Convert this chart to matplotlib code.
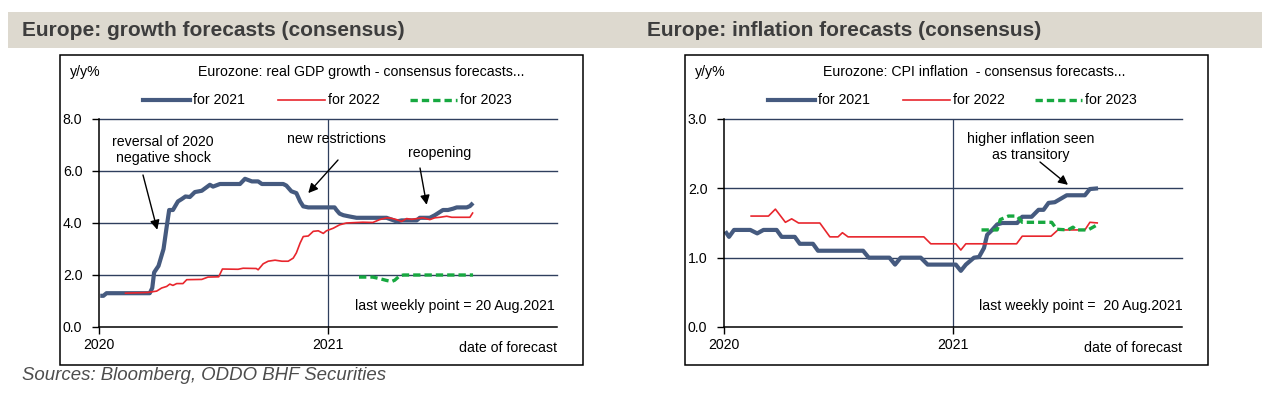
import matplotlib
matplotlib.use('Agg')
import matplotlib.pyplot as plt
import pandas as pd
from matplotlib.patches import Rectangle

W, H = 1269, 397

# consensus forecasts (date of forecast, y/y %)
gdp21_dates = ['2020-01-03', '2020-01-08', '2020-01-13', '2020-03-22', '2020-03-26', '2020-03-29',
               '2020-04-05', '2020-04-13', '2020-04-18', '2020-04-22', '2020-04-28', '2020-05-06',
               '2020-05-12', '2020-05-18', '2020-05-25', '2020-06-02', '2020-06-13', '2020-06-26',
               '2020-07-01', '2020-07-12', '2020-08-13', '2020-08-21', '2020-09-01', '2020-09-11',
               '2020-09-17', '2020-10-21', '2020-10-26', '2020-11-03', '2020-11-11', '2020-11-17',
               '2020-11-22', '2020-11-30', '2021-01-11', '2021-01-14', '2021-01-19', '2021-01-25',
               '2021-02-04', '2021-02-15', '2021-04-04', '2021-04-20', '2021-04-28', '2021-05-22',
               '2021-05-27', '2021-06-12', '2021-06-20', '2021-07-03', '2021-07-11', '2021-07-19',
               '2021-07-25', '2021-08-10', '2021-08-15', '2021-08-20']
gdp21 = [1.2, 1.2, 1.3, 1.3, 1.5, 2.1,
         2.35, 3.0, 3.85, 4.5, 4.5, 4.83,
         4.92, 5.02, 5.0, 5.19, 5.24, 5.47,
         5.4, 5.5, 5.5, 5.7, 5.6, 5.6,
         5.5, 5.5, 5.44, 5.22, 5.15, 4.83,
         4.64, 4.6, 4.6, 4.5, 4.36, 4.3,
         4.25, 4.2, 4.2, 4.06, 4.1, 4.1,
         4.2, 4.2, 4.3, 4.5, 4.5, 4.55,
         4.6, 4.6, 4.65, 4.77]

gdp22_dates = ['2020-02-11', '2020-03-19', '2020-04-02', '2020-04-10', '2020-04-18', '2020-04-23',
               '2020-04-28', '2020-05-04', '2020-05-14', '2020-05-20', '2020-06-13', '2020-06-23',
               '2020-07-10', '2020-07-16', '2020-08-10', '2020-08-18', '2020-09-08', '2020-09-11',
               '2020-09-19', '2020-09-27', '2020-10-08', '2020-10-19', '2020-10-29', '2020-11-06',
               '2020-11-11', '2020-11-17', '2020-11-22', '2020-11-30', '2020-12-08', '2020-12-16',
               '2020-12-24', '2020-12-29', '2021-01-09', '2021-01-19', '2021-01-30', '2021-02-25',
               '2021-03-13', '2021-03-24', '2021-04-04', '2021-04-12', '2021-04-20', '2021-04-28',
               '2021-05-06', '2021-05-14', '2021-05-22', '2021-06-01', '2021-06-12', '2021-06-20',
               '2021-06-28', '2021-07-09', '2021-07-17', '2021-08-15', '2021-08-20']
gdp22 = [1.3, 1.33, 1.38, 1.5, 1.56, 1.65,
         1.6, 1.67, 1.67, 1.82, 1.83, 1.92,
         1.93, 2.23, 2.22, 2.26, 2.25, 2.2,
         2.43, 2.53, 2.57, 2.53, 2.53, 2.65,
         2.85, 3.23, 3.48, 3.5, 3.68, 3.7,
         3.6, 3.7, 3.8, 3.93, 4.0, 4.03,
         4.02, 4.13, 4.2, 4.18, 4.13, 4.06,
         4.17, 4.14, 4.17, 4.2, 4.13, 4.2,
         4.22, 4.26, 4.22, 4.22, 4.41]

gdp23_dates = ['2021-02-19', '2021-03-13', '2021-03-24', '2021-04-04', '2021-04-12', '2021-04-17',
               '2021-04-25', '2021-05-01', '2021-08-20']
gdp23 = [1.92, 1.92, 1.86, 1.79, 1.75, 1.8, 1.97, 2.0, 2.0]

cpi21_dates = ['2020-01-03', '2020-01-09', '2020-01-17', '2020-02-12', '2020-02-23', '2020-03-04',
               '2020-03-25', '2020-04-02', '2020-04-23', '2020-05-01', '2020-05-22', '2020-05-30',
               '2020-08-10', '2020-08-19', '2020-09-21', '2020-09-30', '2020-10-09', '2020-11-10',
               '2020-11-21', '2020-12-15', '2021-01-05', '2021-01-13', '2021-01-21', '2021-02-03',
               '2021-02-11', '2021-02-19', '2021-02-24', '2021-03-04', '2021-03-12', '2021-03-20',
               '2021-04-13', '2021-04-21', '2021-05-06', '2021-05-17', '2021-05-25', '2021-06-02',
               '2021-06-12', '2021-07-01', '2021-07-30', '2021-08-07', '2021-08-20']
cpi21 = [1.38, 1.3, 1.4, 1.4, 1.35, 1.4,
         1.4, 1.3, 1.3, 1.2, 1.2, 1.1,
         1.1, 1.0, 1.0, 0.9, 1.0, 1.0,
         0.9, 0.9, 0.9, 0.81, 0.9, 1.0,
         1.01, 1.14, 1.33, 1.4, 1.48, 1.5,
         1.5, 1.59, 1.59, 1.69, 1.69, 1.79,
         1.8, 1.9, 1.9, 1.99, 2.0]

cpi22_dates = ['2020-02-12', '2020-03-12', '2020-03-23', '2020-04-08', '2020-04-18', '2020-04-29',
               '2020-06-02', '2020-06-18', '2020-07-01', '2020-07-08', '2020-07-17', '2020-11-15',
               '2020-11-26', '2021-01-05', '2021-01-13', '2021-01-21', '2021-04-12', '2021-04-21',
               '2021-06-06', '2021-06-17', '2021-07-30', '2021-08-07', '2021-08-20']
cpi22 = [1.6, 1.6, 1.7, 1.51, 1.56, 1.5,
         1.5, 1.3, 1.3, 1.36, 1.3, 1.3,
         1.2, 1.2, 1.11, 1.2, 1.2, 1.31,
         1.31, 1.4, 1.4, 1.51, 1.5]

cpi23_dates = ['2021-02-15', '2021-03-12', '2021-03-17', '2021-03-30', '2021-04-13', '2021-04-21',
               '2021-06-07', '2021-06-15', '2021-07-03', '2021-07-11', '2021-07-16', '2021-08-04',
               '2021-08-12', '2021-08-20']
cpi23 = [1.4, 1.4, 1.55, 1.6, 1.6, 1.51, 1.51, 1.41, 1.4, 1.44, 1.4, 1.4, 1.44, 1.48]

years = ['2020', '2021']

BLUE = '#455a7f'
RED = '#e8262d'
GREEN = '#17a840'
GRID = '#2f3f5e'
NARROW = ['Liberation Sans Narrow', 'Liberation Sans', 'DejaVu Sans']
SANS = ['Liberation Sans', 'DejaVu Sans']
FS = 10.2


def fx(x):
    return x / W


def fy(y):
    return 1 - y / H


def panel(fig, left, title, subtitle, ymax, ystep, series, note_txt, note_x):
    # outer box of the chart
    fig.patches.append(Rectangle((fx(left - 39), fy(365)), fx(523), (365 - 55) / H,
                                 transform=fig.transFigure, fill=False,
                                 edgecolor='black', lw=1.1))
    fig.text(fx(left - 77), fy(30), title, fontsize=15, fontweight='bold',
             color='#3d3d3d', family=SANS, va='center')
    fig.text(fx(left - 29), fy(72), 'y/y%', fontsize=FS, family=NARROW, va='center')
    fig.text(fx(left + 99), fy(72), subtitle, fontsize=FS, family=NARROW, va='center')

    ax = fig.add_axes([fx(left), fy(327), fx(458), (327 - 119) / H])
    ax.set_facecolor('none')
    x0 = pd.Timestamp('2020-01-01')
    x1 = pd.Timestamp('2022-01-01')
    ax.set_xlim(x0, x1)
    ax.set_ylim(0, ymax)

    # legend row drawn by hand to match the spacing
    leg_x = [left + 44, left + 179, left + 311]
    for (d, v, lab, c, lw, ls), lx in zip(series, leg_x):
        ax.plot(pd.to_datetime(d), v, color=c, lw=lw, ls=ls, solid_capstyle='butt')
        fig.lines.append(plt.Line2D([fx(lx), fx(lx + 47)], [fy(100), fy(100)],
                                    transform=fig.transFigure, color=c, lw=lw, ls=ls))
        fig.text(fx(lx + 50), fy(100), lab, fontsize=FS, family=NARROW, va='center')

    yt = [i * ystep for i in range(int(round(ymax / ystep)) + 1)]
    for v in yt[1:]:
        ax.axhline(v, color=GRID, lw=1, clip_on=False, zorder=0)
    ax.axvline(pd.Timestamp(years[1] + '-01-01'), color=GRID, lw=0.9, zorder=0)
    ax.set_yticks(yt)
    ax.set_yticklabels([f'{v:.1f}' for v in yt], fontsize=FS, family=NARROW)
    ax.set_xticks([pd.Timestamp(y + '-01-01') for y in years])
    ax.set_xticklabels(years, fontsize=FS, family=NARROW)
    ax.tick_params(axis='y', direction='out', length=5, width=1, pad=7)
    ax.tick_params(axis='x', direction='out', length=5, width=1, pad=3)
    for s in ['top', 'right']:
        ax.spines[s].set_visible(False)
    for s in ['left', 'bottom']:
        ax.spines[s].set_linewidth(1.1)
    ax.spines['bottom'].set_zorder(1)

    fig.text(fx(left + 458), fy(348), 'date of forecast', fontsize=FS,
             family=NARROW, ha='right', va='center')
    fig.text(fx(note_x), fy(306), note_txt, fontsize=FS, family=NARROW, va='center')
    return ax


fig = plt.figure(figsize=(W / 100, H / 100), dpi=100)
fig.patches.append(Rectangle((fx(8), fy(48)), fx(1254), 36 / H, transform=fig.transFigure,
                             facecolor='#ddd9cf', edgecolor='none', zorder=0))

gdp_series = [(gdp21_dates, gdp21, 'for 2021', BLUE, 3.0, '-'),
              (gdp22_dates, gdp22, 'for 2022', RED, 1.2, '-'),
              (gdp23_dates, gdp23, 'for 2023', GREEN, 2.4, (0, (2.2, 1.2)))]
cpi_series = [(cpi21_dates, cpi21, 'for 2021', BLUE, 3.0, '-'),
              (cpi22_dates, cpi22, 'for 2022', RED, 1.2, '-'),
              (cpi23_dates, cpi23, 'for 2023', GREEN, 2.4, (0, (2.2, 1.2)))]

ax1 = panel(fig, 99, 'Europe: growth forecasts (consensus)',
            'Eurozone: real GDP growth - consensus forecasts...', 8.0, 2.0,
            gdp_series, 'last weekly point = 20 Aug.2021', 355)
ax2 = panel(fig, 724, 'Europe: inflation forecasts (consensus)',
            'Eurozone: CPI inflation  - consensus forecasts...', 3.0, 1.0,
            cpi_series, 'last weekly point =  20 Aug.2021', 979)

arrow = dict(arrowstyle='-|>', color='black', lw=1, mutation_scale=14, shrinkA=0, shrinkB=0)

fig.text(fx(163), fy(150), 'reversal of 2020\nnegative shock', fontsize=FS,
         family=NARROW, ha='center', va='center', linespacing=1.15)
ax1.annotate('', xy=(pd.Timestamp('2020-04-03'), 3.74), xytext=(143, H - 175),
             textcoords='figure pixels', arrowprops=arrow)
fig.text(fx(336), fy(139), 'new restrictions', fontsize=FS, family=NARROW,
         ha='center', va='center')
ax1.annotate('', xy=(pd.Timestamp('2020-11-30'), 5.15), xytext=(338, H - 160),
             textcoords='figure pixels', arrowprops=arrow)
fig.text(fx(440), fy(153), 'reopening', fontsize=FS, family=NARROW,
         ha='center', va='center')
ax1.annotate('', xy=(pd.Timestamp('2021-06-07'), 4.7), xytext=(420, H - 168),
             textcoords='figure pixels', arrowprops=arrow)

fig.text(fx(1031), fy(147), 'higher inflation seen\nas transitory', fontsize=FS,
         family=NARROW, ha='center', va='center', linespacing=1.15)
ax2.annotate('', xy=(pd.Timestamp('2021-07-03'), 2.05), xytext=(1040, H - 162),
             textcoords='figure pixels', arrowprops=arrow)

fig.text(fx(22), fy(376), 'Sources: Bloomberg, ODDO BHF Securities', fontsize=13.4,
         style='italic', color='#4d4d4d', family=SANS, va='center')

fig.savefig('out.png', dpi=100)
